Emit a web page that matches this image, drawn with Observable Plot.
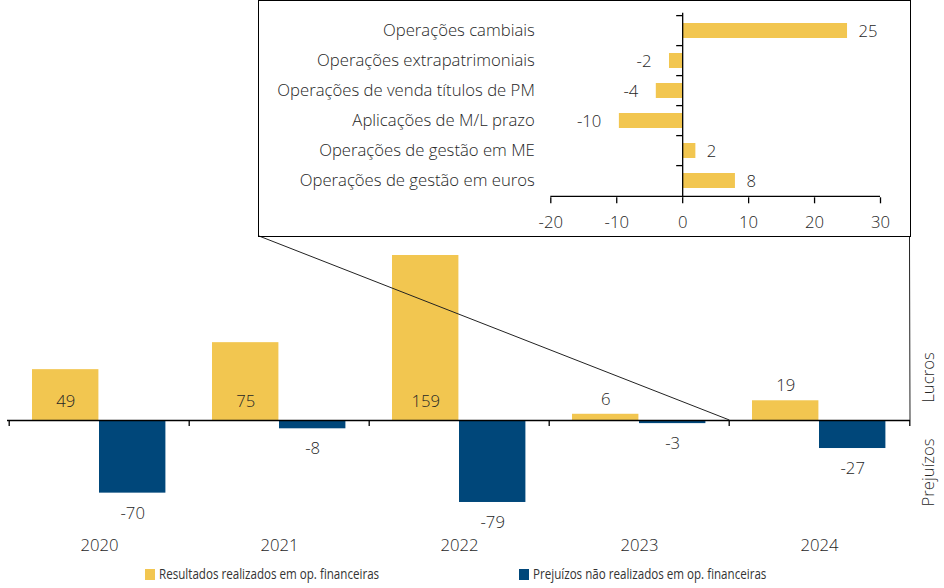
<!DOCTYPE html>
<html>
<head>
<meta charset="utf-8">
<script src="https://cdn.jsdelivr.net/npm/d3@7"></script>
<script src="https://cdn.jsdelivr.net/npm/@observablehq/plot@0.6"></script>
<style>
  body { margin: 0; background: #fff; font-family: "Open Sans", sans-serif; }
  #wrap { position: relative; width: 944px; height: 588px; overflow: hidden; }
  #main { position: absolute; left: 0; top: 0; }
  #inset { position: absolute; left: 259px; top: 0; background: #fff; }
  #box { position: absolute; left: 258px; top: 0; width: 652.5px; height: 237px; border: 1.5px solid #000; box-sizing: border-box; pointer-events: none; }
  #legend { position: absolute; left: 0; top: 560px; width: 944px; height: 28px; }
  .item { position: absolute; top: 9px; height: 11px; white-space: nowrap; }
  .sw { position: absolute; left: 0; top: 0; width: 10px; height: 11px; }
  .lt { position: absolute; left: 14px; top: -6px; font-family: "Open Sans", sans-serif; font-size: 14.5px; color: #333; transform: scaleX(0.8); transform-origin: 0 50%; line-height: 22px; }
</style>
</head>
<body>
<div id="wrap">
  <div id="main"></div>
  <div id="inset"></div>
  <div id="box"></div>
  <div id="legend"></div>
</div>
<script>
// ---------- data ----------
const years = ["2020", "2021", "2022", "2023", "2024"];
const realizados = [49, 75, 159, 6, 19];
const naoRealizados = [-70, -8, -79, -3, -27];
const seriesNames = ["Resultados realizados em op. financeiras", "Prejuízos não realizados em op. financeiras"];
const seriesColors = ["#F2C650", "#00477A"];
const sideLabels = ["Lucros", "Prejuízos"];

const categorias = [
  "Operações cambiais",
  "Operações extrapatrimoniais",
  "Operações de venda títulos de PM",
  "Aplicações de M/L prazo",
  "Operações de gestão em ME",
  "Operações de gestão em euros"
];
const valores = [25, -2, -4, -9.6, 2, 8];
const insetTicks = [-20, -10, 0, 10, 20, 30];

// ---------- layout ----------
const W = 944, H = 560;
const mL = 7, mR = 34;
const baseY = 420, topY = 255;          // pixel rows of 0 and of the max value
const k = (baseY - topY) / d3.max(realizados);
const bw = (W - mL - mR) / years.length;
const gapL = 23, barW = 67;
const txtColor = "#262626";
const fw = 300;
const fs = 16.7;
const num = v => String(Math.round(v));   // plain hyphen-minus, as in the reference

const rows = years.map((y, i) => ({year: y, real: realizados[i], nreal: naoRealizados[i]}));

const main = Plot.plot({
  width: W, height: H,
  marginLeft: mL, marginRight: mR, marginTop: 0, marginBottom: 15,
  style: {fontFamily: "Open Sans", fontSize: fs + "px", fontWeight: fw, color: txtColor, background: "transparent", overflow: "visible"},
  x: {type: "band", domain: years, padding: 0, axis: null},
  y: {domain: [0, d3.max(realizados)], range: [baseY, topY], axis: null},
  marks: [
    Plot.barY(rows, {x: "year", y: "real", fill: seriesColors[0], insetLeft: gapL, insetRight: bw - gapL - barW}),
    Plot.barY(rows, {x: "year", y: "nreal", fill: seriesColors[1], insetLeft: gapL + barW, insetRight: bw - gapL - 2 * barW}),
    Plot.ruleY([0], {stroke: "#000", strokeWidth: 1.3}),
    Plot.ruleX(years, {x: d => d, y1: 0, y2: -6 / k, dx: -bw / 2, stroke: "#000", strokeWidth: 1.3}),
    Plot.ruleX(years.slice(-1), {x: d => d, y1: 0, y2: -6 / k, dx: bw / 2, stroke: "#000", strokeWidth: 1.3}),
    Plot.text(rows.filter(d => d.real >= 30), {x: "year", y: 0, text: d => num(d.real), dx: -(bw / 2 - gapL - barW / 2), dy: -19, fill: txtColor, fontSize: fs, fontWeight: fw}),
    Plot.text(rows.filter(d => d.real < 30), {x: "year", y: "real", text: d => num(d.real), dx: -(bw / 2 - gapL - barW / 2), dy: -15, fill: txtColor, fontSize: fs, fontWeight: fw}),
    Plot.text(rows, {x: "year", y: "nreal", text: d => num(d.nreal), dx: gapL + barW + barW / 2 - bw / 2, dy: 20, fill: txtColor, fontSize: fs, fontWeight: fw}),
    Plot.text(years, {x: d => d, frameAnchor: "bottom", lineAnchor: "middle", text: d => d, fill: txtColor, fontSize: fs, fontWeight: fw}),
    Plot.text([sideLabels[0]], {frameAnchor: "right", textAnchor: "middle", lineAnchor: "middle", y: (baseY - 377) / k, text: d => d, rotate: -90, dx: 18, fill: txtColor, fontSize: fs, fontWeight: fw}),
    Plot.text([sideLabels[1]], {frameAnchor: "right", textAnchor: "middle", lineAnchor: "middle", y: (baseY - 472) / k, text: d => d, rotate: -90, dx: 18, fill: txtColor, fontSize: fs, fontWeight: fw})
  ]
});
document.getElementById("main").appendChild(main);

// ---------- inset ----------
const IW = 650, IH = 235, IX = 259, IY = 0;
const iTop = 12.7, iBottom = 197.3;
const iML = 291.3, iMR = 29;
const kx = (IW - iML - iMR) / (d3.max(insetTicks) - d3.min(insetTicks));
const step = (iBottom - iTop) / categorias.length;
const insetRows = categorias.map((c, i) => ({cat: c, v: valores[i]}));

const inset = Plot.plot({
  width: IW, height: IH,
  marginLeft: iML, marginRight: iMR, marginTop: iTop, marginBottom: IH - iBottom,
  style: {fontFamily: "Open Sans", fontSize: fs + "px", fontWeight: fw, color: txtColor, background: "transparent", overflow: "visible"},
  x: {domain: [d3.min(insetTicks), d3.max(insetTicks)], axis: null, label: null},
  y: {type: "band", domain: categorias, paddingInner: 0.51, paddingOuter: 0.255, axis: null, label: null},
  marks: [
    Plot.barX(insetRows, {y: "cat", x: "v", fill: seriesColors[0]}),
    Plot.ruleX([0], {stroke: "#000", strokeWidth: 1.3}),
    Plot.ruleY(categorias.slice(-1), {y: d => d, x1: d3.min(insetTicks), x2: d3.max(insetTicks), dy: step / 2, stroke: "#000", strokeWidth: 1.3}),
    Plot.ruleY(categorias, {y: d => d, x1: 0, x2: -6 / kx, dy: -step / 2, stroke: "#000", strokeWidth: 1.3}),
    Plot.axisX({ticks: insetTicks, tickFormat: num, label: null, tickSize: 6, tickPadding: 12, fontSize: fs, fontWeight: fw, stroke: "#000", fill: txtColor, strokeWidth: 1.3}),
    Plot.axisY({tickSize: 0, tickPadding: 16, label: null, fontSize: fs, fontWeight: fw, fill: txtColor}),
    Plot.text(insetRows.filter(d => d.v > 0), {y: "cat", x: "v", text: d => num(d.v), textAnchor: "start", dx: 11, dy: 1, fill: txtColor, fontSize: fs, fontWeight: fw}),
    Plot.text(insetRows.filter(d => d.v < 0), {y: "cat", x: "v", text: d => num(d.v), textAnchor: "end", dx: -18, dy: 1, fill: txtColor, fontSize: fs, fontWeight: fw})
  ]
});
document.getElementById("inset").appendChild(inset);

// ---------- connector lines (inset box -> 2024 group) ----------
const sx = main.scale("x"), sy = main.scale("y");
const xr = sx.range;
const gStart = xr[0] + years.indexOf("2024") * bw;
const gEnd = gStart + bw;
const y0 = sy.apply(0);
const conn = d3.select(main).append("g").attr("stroke", "#222").attr("stroke-width", 1).attr("fill", "none");
conn.append("line").attr("x1", IX).attr("y1", IY + IH + 1).attr("x2", gStart).attr("y2", y0);
conn.append("line").attr("x1", IX + IW + 0.5).attr("y1", IY + IH + 1).attr("x2", gEnd).attr("y2", y0);

// ---------- legend ----------
const legend = document.getElementById("legend");
const legendLeft = [145, 519];
seriesNames.forEach((name, i) => {
  const it = document.createElement("div");
  it.className = "item";
  it.style.left = legendLeft[i] + "px";
  it.innerHTML = `<span class="sw" style="background:${seriesColors[i]}"></span><span class="lt">${name}</span>`;
  legend.appendChild(it);
});
</script>
</body>
</html>
